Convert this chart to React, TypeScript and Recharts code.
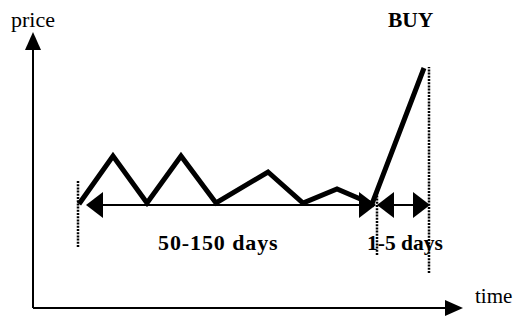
import React from 'react';
import { ComposedChart, Line, XAxis, YAxis, ReferenceLine, ReferenceDot } from 'recharts';

// Price path (schematic): time units vs price units
const times = [46, 80, 114, 148, 183, 235, 270, 304, 339, 391];
const prices = [104, 152, 105, 152, 105, 136, 105, 119, 104, 240];
const data = times.map((t, i) => ({ t, p: prices[i] }));

// Axis extents
const timeAxisEnd = 430;
const priceAxisEnd = 276;

// Dotted event markers
const markerTimes = [45, 344, 396];
const markerLows = [61, 53, 35];
const markerHighs = [128, 118, 241];

// Period spans (double-headed arrows)
const spanStarts = [53, 344];
const spanEnds = [343, 397];
const spanLevel = 103;
const spanLabels = ['50-150 days', '1-5 days'];

// Axis / signal labels
const priceLabel = 'price';
const timeLabel = 'time';
const signalLabel = 'BUY';

const FONT = '"Liberation Serif", "Times New Roman", serif';

const DoubleArrow = (props: any) => {
  const { x1, y1, x2, y2 } = props;
  const L = 17;
  const H = 13;
  return (
    <g>
      <line x1={x1 + L} y1={y1} x2={x2 - L} y2={y2} stroke="#000" strokeWidth={2} />
      <polygon points={`${x1},${y1} ${x1 + L},${y1 - H} ${x1 + L},${y1 + H}`} fill="#000" />
      <polygon points={`${x2},${y2} ${x2 - L},${y2 - H} ${x2 - L},${y2 + H}`} fill="#000" />
    </g>
  );
};

const AxisArrow = (props: any) => {
  const { x1, y1, x2, y2 } = props;
  const L = 18;
  const H = 8;
  const dx = x2 - x1;
  const dy = y2 - y1;
  const len = Math.sqrt(dx * dx + dy * dy) || 1;
  const ux = dx / len;
  const uy = dy / len;
  const bx = x2 - ux * L;
  const by = y2 - uy * L;
  const px = -uy * H;
  const py = ux * H;
  return (
    <g>
      <line x1={x1} y1={y1} x2={bx} y2={by} stroke="#000" strokeWidth={2} />
      <polygon points={`${x2},${y2} ${bx + px},${by + py} ${bx - px},${by - py}`} fill="#000" />
    </g>
  );
};

const Dotted = (props: any) => {
  const { x1, y1, x2, y2 } = props;
  return <line x1={x1} y1={y1} x2={x2} y2={y2} stroke="#000" strokeWidth={2.5} strokeDasharray="2 1.2" />;
};

const makeText = (text: string, size: number, bold: boolean, spacing = 0) => (p: any) => (
  <text
    x={p.cx}
    y={p.cy}
    fontFamily={FONT}
    fontSize={size}
    fontWeight={bold ? 'bold' : 'normal'}
    letterSpacing={spacing}
    fill="#000"
    textAnchor="start"
  >
    {text}
  </text>
);

export default function App() {
  return (
    <div style={{ position: 'absolute', left: 0, top: 0, width: 518, height: 318, background: '#fff' }}>
      <ComposedChart width={518} height={318} data={data} margin={{ top: 0, right: 0, bottom: 0, left: 0 }}>
        <XAxis dataKey="t" type="number" domain={[-33, 485]} hide allowDataOverflow />
        <YAxis type="number" domain={[-10, 308]} hide allowDataOverflow />

        {/* axes */}
        <ReferenceLine segment={[{ x: 0, y: 0 }, { x: 0, y: priceAxisEnd }]} shape={AxisArrow} ifOverflow="visible" />
        <ReferenceLine segment={[{ x: 0, y: 0 }, { x: timeAxisEnd, y: 0 }]} shape={AxisArrow} ifOverflow="visible" />

        {/* dotted markers */}
        {markerTimes.map((t, i) => (
          <ReferenceLine
            key={'m' + i}
            segment={[{ x: t, y: markerLows[i] }, { x: t, y: markerHighs[i] }]}
            shape={Dotted}
            ifOverflow="visible"
          />
        ))}

        {/* period spans */}
        {spanStarts.map((s, i) => (
          <ReferenceLine
            key={'s' + i}
            segment={[{ x: s, y: spanLevel }, { x: spanEnds[i], y: spanLevel }]}
            shape={DoubleArrow}
            ifOverflow="visible"
          />
        ))}

        <Line
          dataKey="p"
          type="linear"
          stroke="#000"
          strokeWidth={5}
          strokeLinejoin="miter"
          strokeLinecap="butt"
          dot={false}
          activeDot={false}
          isAnimationActive={false}
        />

        {/* labels */}
        <ReferenceDot x={-22} y={281} r={0} ifOverflow="visible" shape={makeText(priceLabel, 22, false)} />
        <ReferenceDot x={442} y={5} r={0} ifOverflow="visible" shape={makeText(timeLabel, 21, false)} />
        <ReferenceDot x={355} y={281} r={0} ifOverflow="visible" shape={makeText(signalLabel, 21.5, true)} />
        <ReferenceDot x={125} y={58} r={0} ifOverflow="visible" shape={makeText(spanLabels[0], 22, true, 0.9)} />
        <ReferenceDot x={334} y={58} r={0} ifOverflow="visible" shape={makeText(spanLabels[1], 21.5, true)} />
      </ComposedChart>
    </div>
  );
}
